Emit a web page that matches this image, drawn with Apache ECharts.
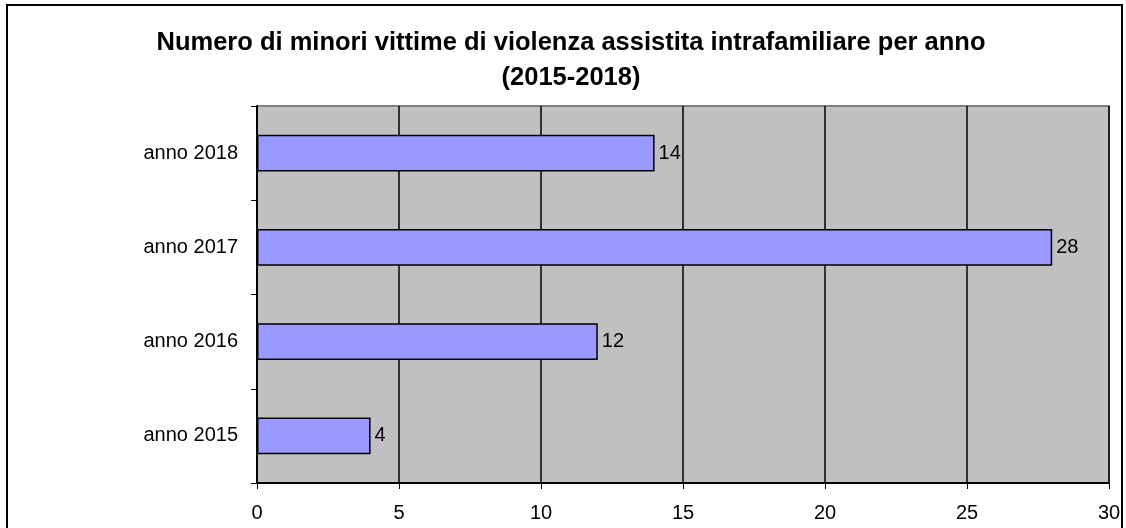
<!DOCTYPE html>
<html>
<head>
<meta charset="utf-8">
<script src="https://cdn.jsdelivr.net/npm/echarts@6/dist/echarts.min.js"></script>
<style>
  html, body { margin: 0; padding: 0; background: #fff; }
  #chart { width: 1126px; height: 528px; }
</style>
</head>
<body>
<div id="chart"></div>
<script>
  // categories from bottom to top
  const years = ['anno 2015', 'anno 2016', 'anno 2017', 'anno 2018']
  const counts = [4, 12, 28, 14]
  const xTicks = [0, 5, 10, 15, 20, 25, 30]

  const chart = echarts.init(document.getElementById('chart'))
  const font = 'Liberation Sans, Arial, sans-serif'

  const option = {
    animation: false,
    title: {
      text: 'Numero di minori vittime di violenza assistita intrafamiliare per anno\n(2015-2018)',
      left: 566,
      top: 20,
      textAlign: 'center',
      textStyle: { fontFamily: font, fontSize: 25.5, fontWeight: 'bold', color: '#000', lineHeight: 35 }
    },
    graphic: [{
      type: 'rect',
      shape: { x: 7, y: 5, width: 1115, height: 540 },
      style: { fill: 'none', stroke: '#000', lineWidth: 2 },
      silent: true
    }],
    grid: {
      left: 257, top: 106, width: 852, height: 377,
      show: true, backgroundColor: '#c0c0c0', borderColor: '#808080', borderWidth: 2
    },
    xAxis: {
      type: 'value',
      min: xTicks[0],
      max: xTicks[xTicks.length - 1],
      interval: 5,
      axisLine: { show: true, lineStyle: { color: '#000', width: 2 } },
      axisTick: { show: true, length: 6, lineStyle: { color: '#000', width: 1 } },
      axisLabel: { fontFamily: font, fontSize: 20, color: '#000', margin: 20 },
      splitLine: { show: true, lineStyle: { color: '#000', width: 1.5 } }
    },
    yAxis: {
      type: 'category',
      data: years,
      axisLine: { show: true, lineStyle: { color: '#000', width: 2 } },
      axisTick: { show: true, length: 6, lineStyle: { color: '#000', width: 1 } },
      axisLabel: { fontFamily: font, fontSize: 20, color: '#000', margin: 19 },
      splitLine: { show: false }
    },
    series: [{
      type: 'bar',
      data: counts,
      barCategoryGap: '61%',
      itemStyle: { color: '#9999ff', borderColor: '#000', borderWidth: 1.5 },
      label: {
        show: true,
        position: 'right',
        distance: 4,
        fontFamily: font,
        fontSize: 20,
        color: '#000'
      }
    }]
  }

  chart.setOption(option)
</script>
</body>
</html>
